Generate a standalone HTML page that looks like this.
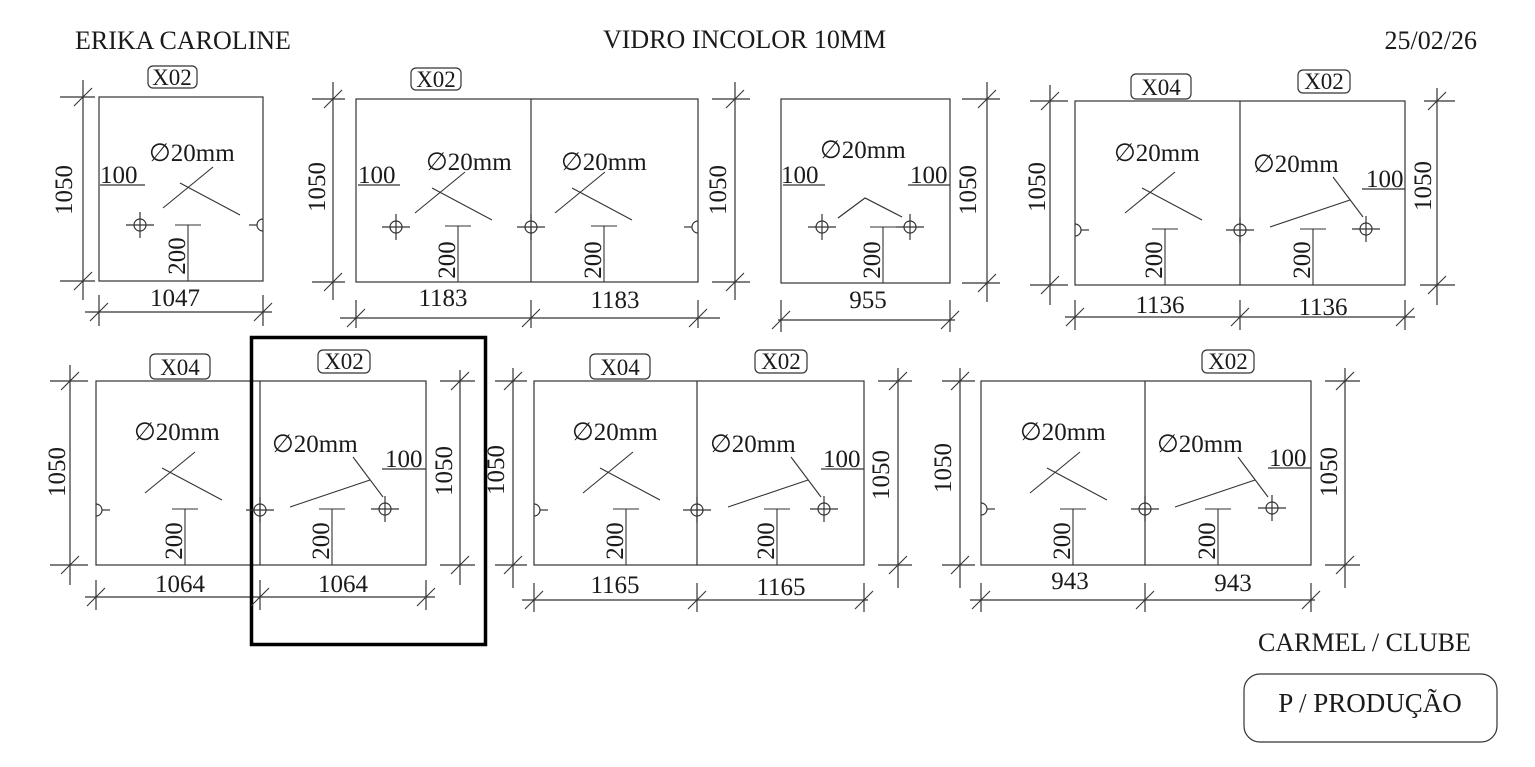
<!DOCTYPE html>
<html><head><meta charset="utf-8"><style>
html,body{margin:0;padding:0;background:#fff}
svg{display:block}
text{font-family:"Liberation Serif",serif;fill:#1a1a1a}
.d{font-size:25px}
.h{font-size:26px}
</style></head><body>
<svg width="1535" height="767" viewBox="0 0 1535 767" xmlns="http://www.w3.org/2000/svg">
<defs>
<g id="hole" stroke="#333" stroke-width="1.2" fill="none"><circle r="6"/><line x1="-14" x2="14"/><line y1="-13" y2="13"/></g>
<g id="hl" stroke="#333" stroke-width="1.2" fill="none"><path d="M0,-6 A6,6 0 0 1 0,6"/><line x1="6" x2="14"/></g>
<g id="hr" stroke="#333" stroke-width="1.2" fill="none"><path d="M0,-6 A6,6 0 0 0 0,6"/><line x1="-6" x2="-14"/></g>
<g id="t" stroke="#333" stroke-width="1.1"><line x1="-9" y1="9" x2="9" y2="-9"/></g>
<g id="lx" stroke="#333" stroke-width="1.1"><line x1="-25" y1="23" x2="25" y2="-18"/><line x1="-8" y1="-2" x2="52" y2="30"/></g>
<g id="rx" stroke="#333" stroke-width="1.1"><line x1="-55" y1="32" x2="25" y2="5"/><line x1="8" y1="-18" x2="38" y2="22"/></g>
<g id="b200" stroke="#333" stroke-width="1.1"><line x1="0" y1="0" x2="0" y2="56"/><line x1="-13" x2="13"/></g>
</defs>
<g stroke="#333" stroke-width="1.2" fill="none">
<rect x="99" y="97" width="164" height="184"/>
<line x1="83" y1="80" x2="83" y2="300"/><line x1="60" y1="97" x2="95" y2="97"/><line x1="60" y1="281" x2="95" y2="281"/>
<line x1="85" y1="312" x2="272" y2="312"/><line x1="99" y1="295" x2="99" y2="326"/><line x1="263" y1="295" x2="263" y2="326"/>
<line x1="100" y1="185" x2="145" y2="185"/>
<rect x="356" y="99" width="342" height="183"/><line x1="531" y1="99" x2="531" y2="282"/>
<line x1="333" y1="82" x2="333" y2="300"/><line x1="312" y1="99" x2="345" y2="99"/><line x1="312" y1="282" x2="345" y2="282"/>
<line x1="735" y1="82" x2="735" y2="300"/><line x1="712" y1="99" x2="750" y2="99"/><line x1="712" y1="282" x2="750" y2="282"/>
<line x1="340" y1="318" x2="720" y2="318"/><line x1="356" y1="300" x2="356" y2="328"/><line x1="531" y1="300" x2="531" y2="328"/><line x1="698" y1="300" x2="698" y2="328"/>
<line x1="358" y1="185" x2="400" y2="185"/>
<rect x="781" y="99" width="169" height="184"/>
<line x1="987" y1="82" x2="987" y2="302"/><line x1="962" y1="99" x2="1000" y2="99"/><line x1="962" y1="283" x2="1000" y2="283"/>
<line x1="778" y1="320" x2="955" y2="320"/><line x1="781" y1="300" x2="781" y2="332"/><line x1="950" y1="300" x2="950" y2="332"/>
<line x1="783" y1="185" x2="825" y2="185"/><line x1="908" y1="185" x2="950" y2="185"/>
<polyline points="838,218 865,198 902,217"/>
<rect x="1075" y="101" width="330" height="184"/><line x1="1240" y1="101" x2="1240" y2="285"/>
<line x1="1050" y1="85" x2="1050" y2="305"/><line x1="1030" y1="101" x2="1068" y2="101"/><line x1="1030" y1="285" x2="1068" y2="285"/>
<line x1="1437" y1="88" x2="1437" y2="305"/><line x1="1424" y1="101" x2="1455" y2="101"/><line x1="1420" y1="285" x2="1455" y2="285"/>
<line x1="1065" y1="317" x2="1415" y2="317"/><line x1="1075" y1="300" x2="1075" y2="330"/><line x1="1240" y1="300" x2="1240" y2="330"/><line x1="1405" y1="300" x2="1405" y2="330"/>
<line x1="1362" y1="189" x2="1405" y2="189"/>
<rect x="96" y="381" width="330" height="184"/><line x1="260" y1="381" x2="260" y2="565"/>
<line x1="70" y1="365" x2="70" y2="585"/><line x1="50" y1="381" x2="88" y2="381"/><line x1="50" y1="565" x2="88" y2="565"/>
<line x1="460" y1="370" x2="460" y2="585"/><line x1="440" y1="381" x2="475" y2="381"/><line x1="440" y1="565" x2="475" y2="565"/>
<line x1="85" y1="597" x2="435" y2="597"/><line x1="96" y1="580" x2="96" y2="610"/><line x1="260" y1="580" x2="260" y2="610"/><line x1="426" y1="580" x2="426" y2="610"/>
<line x1="382" y1="469" x2="426" y2="469"/>
<rect x="534" y="381" width="330" height="184"/><line x1="697" y1="381" x2="697" y2="565"/>
<line x1="513" y1="368" x2="513" y2="588"/><line x1="495" y1="381" x2="527" y2="381"/><line x1="495" y1="565" x2="527" y2="565"/>
<line x1="898" y1="368" x2="898" y2="588"/><line x1="878" y1="381" x2="912" y2="381"/><line x1="878" y1="565" x2="912" y2="565"/>
<line x1="522" y1="600" x2="868" y2="600"/><line x1="534" y1="583" x2="534" y2="612"/><line x1="697" y1="583" x2="697" y2="612"/><line x1="864" y1="583" x2="864" y2="612"/>
<line x1="821" y1="469" x2="864" y2="469"/>
<rect x="981" y="381" width="330" height="184"/><line x1="1145" y1="381" x2="1145" y2="565"/>
<line x1="960" y1="368" x2="960" y2="588"/><line x1="942" y1="381" x2="975" y2="381"/><line x1="942" y1="565" x2="975" y2="565"/>
<line x1="1345" y1="368" x2="1345" y2="588"/><line x1="1325" y1="381" x2="1360" y2="381"/><line x1="1325" y1="565" x2="1360" y2="565"/>
<line x1="970" y1="600" x2="1315" y2="600"/><line x1="981" y1="583" x2="981" y2="612"/><line x1="1145" y1="583" x2="1145" y2="612"/><line x1="1311" y1="583" x2="1311" y2="612"/>
<line x1="1268" y1="468" x2="1311" y2="468"/>
<rect x="148" y="66" width="49" height="22" rx="5"/>
<rect x="411" y="68" width="50" height="22" rx="5"/>
<rect x="1131" y="74" width="60" height="25" rx="5"/>
<rect x="1298" y="70" width="52" height="23" rx="5"/>
<rect x="150" y="354" width="60" height="25" rx="5"/>
<rect x="318" y="350" width="52" height="23" rx="5"/>
<rect x="590" y="354" width="60" height="25" rx="5"/>
<rect x="755" y="350" width="52" height="23" rx="5"/>
<rect x="1202" y="350" width="52" height="23" rx="5"/>
<rect x="1244" y="674" width="253" height="68" rx="16"/>
</g>
<rect x="251.5" y="337.5" width="234" height="307" fill="none" stroke="#000" stroke-width="3.5"/>
<use href="#t" x="83" y="97"/><use href="#t" x="83" y="281"/><use href="#t" x="99" y="312"/><use href="#t" x="263" y="312"/>
<use href="#t" x="333" y="99"/><use href="#t" x="333" y="282"/><use href="#t" x="735" y="99"/><use href="#t" x="735" y="282"/>
<use href="#t" x="356" y="318"/><use href="#t" x="531" y="318"/><use href="#t" x="698" y="318"/>
<use href="#t" x="987" y="99"/><use href="#t" x="987" y="283"/><use href="#t" x="781" y="320"/><use href="#t" x="950" y="320"/>
<use href="#t" x="1050" y="101"/><use href="#t" x="1050" y="285"/><use href="#t" x="1437" y="101"/><use href="#t" x="1437" y="285"/>
<use href="#t" x="1075" y="317"/><use href="#t" x="1240" y="317"/><use href="#t" x="1405" y="317"/>
<use href="#t" x="70" y="381"/><use href="#t" x="70" y="565"/><use href="#t" x="460" y="381"/><use href="#t" x="460" y="565"/>
<use href="#t" x="96" y="597"/><use href="#t" x="260" y="597"/><use href="#t" x="426" y="597"/>
<use href="#t" x="513" y="381"/><use href="#t" x="513" y="565"/><use href="#t" x="898" y="381"/><use href="#t" x="898" y="565"/>
<use href="#t" x="534" y="600"/><use href="#t" x="697" y="600"/><use href="#t" x="864" y="600"/>
<use href="#t" x="960" y="381"/><use href="#t" x="960" y="565"/><use href="#t" x="1345" y="381"/><use href="#t" x="1345" y="565"/>
<use href="#t" x="981" y="600"/><use href="#t" x="1145" y="600"/><use href="#t" x="1311" y="600"/>
<use href="#hole" x="140" y="225"/><use href="#hr" x="263" y="225"/>
<use href="#hole" x="396" y="227"/><use href="#hole" x="531" y="227"/><use href="#hr" x="698" y="227"/>
<use href="#hole" x="822" y="227"/><use href="#hole" x="910" y="227"/>
<use href="#hl" x="1075" y="230"/><use href="#hole" x="1240" y="230"/><use href="#hole" x="1366" y="229"/>
<use href="#hl" x="96" y="510"/><use href="#hole" x="260" y="510"/><use href="#hole" x="385" y="509"/>
<use href="#hl" x="534" y="510"/><use href="#hole" x="697" y="510"/><use href="#hole" x="824" y="509"/>
<use href="#hl" x="981" y="509"/><use href="#hole" x="1145" y="509"/><use href="#hole" x="1272" y="508"/>
<use href="#lx" x="188" y="185"/>
<use href="#lx" x="440" y="190"/><use href="#lx" x="580" y="190"/>
<use href="#lx" x="1150" y="190"/><use href="#rx" x="1325" y="195"/>
<use href="#lx" x="170" y="470"/><use href="#rx" x="345" y="475"/>
<use href="#lx" x="608" y="470"/><use href="#rx" x="783" y="475"/>
<use href="#lx" x="1055" y="470"/><use href="#rx" x="1230" y="475"/>
<use href="#b200" x="188" y="225"/>
<use href="#b200" x="458" y="226"/><use href="#b200" x="604" y="226"/>
<use href="#b200" x="883" y="227"/>
<use href="#b200" x="1165" y="229"/><use href="#b200" x="1313" y="229"/>
<use href="#b200" x="185" y="509"/><use href="#b200" x="332" y="509"/>
<use href="#b200" x="626" y="509"/><use href="#b200" x="777" y="509"/>
<use href="#b200" x="1073" y="509"/><use href="#b200" x="1218" y="509"/>
<text class="h" x="75" y="49">ERIKA CAROLINE</text>
<text class="h" x="603" y="48">VIDRO INCOLOR 10MM</text>
<text class="h" x="1477" y="49" text-anchor="end">25/02/26</text>
<text class="h" x="1258" y="651">CARMEL / CLUBE</text>
<text x="1370" y="712" text-anchor="middle" font-size="27">P / PRODUÇÃO</text>
<g font-size="23">
<text x="172" y="85" text-anchor="middle">X02</text>
<text x="436" y="87" text-anchor="middle">X02</text>
<text x="1161" y="95" text-anchor="middle">X04</text>
<text x="1324" y="89" text-anchor="middle">X02</text>
<text x="180" y="375" text-anchor="middle">X04</text>
<text x="344" y="369" text-anchor="middle">X02</text>
<text x="620" y="375" text-anchor="middle">X04</text>
<text x="781" y="369" text-anchor="middle">X02</text>
<text x="1228" y="369" text-anchor="middle">X02</text>
</g>
<g class="d">
<text x="175" y="306" text-anchor="middle">1047</text>
<text x="443" y="306" text-anchor="middle">1183</text><text x="615" y="308" text-anchor="middle">1183</text>
<text x="868" y="308" text-anchor="middle">955</text>
<text x="1160" y="313" text-anchor="middle">1136</text><text x="1323" y="315" text-anchor="middle">1136</text>
<text x="180" y="592" text-anchor="middle">1064</text><text x="343" y="592" text-anchor="middle">1064</text>
<text x="615" y="593" text-anchor="middle">1165</text><text x="781" y="595" text-anchor="middle">1165</text>
<text x="1070" y="589" text-anchor="middle">943</text><text x="1233" y="591" text-anchor="middle">943</text>
<text x="100" y="183">100</text><text x="358" y="183">100</text>
<text x="781" y="183">100</text><text x="910" y="183">100</text>
<text x="1366" y="187">100</text><text x="385" y="467">100</text>
<text x="823" y="467">100</text><text x="1269" y="466">100</text>
<text x="149" y="161">∅20mm</text>
<text x="426" y="170">∅20mm</text><text x="561" y="170">∅20mm</text>
<text x="820" y="158">∅20mm</text>
<text x="1114" y="161">∅20mm</text><text x="1253" y="172">∅20mm</text>
<text x="134" y="440">∅20mm</text><text x="272" y="452">∅20mm</text>
<text x="572" y="440">∅20mm</text><text x="710" y="452">∅20mm</text>
<text x="1020" y="440">∅20mm</text><text x="1157" y="452">∅20mm</text>
<text transform="translate(72,190) rotate(-90)" text-anchor="middle">1050</text>
<text transform="translate(325,187) rotate(-90)" text-anchor="middle">1050</text>
<text transform="translate(726,190) rotate(-90)" text-anchor="middle">1050</text>
<text transform="translate(976,190) rotate(-90)" text-anchor="middle">1050</text>
<text transform="translate(1045,187) rotate(-90)" text-anchor="middle">1050</text>
<text transform="translate(1431,186) rotate(-90)" text-anchor="middle">1050</text>
<text transform="translate(65,472) rotate(-90)" text-anchor="middle">1050</text>
<text transform="translate(452,471) rotate(-90)" text-anchor="middle">1050</text>
<text transform="translate(504,470) rotate(-90)" text-anchor="middle">1050</text>
<text transform="translate(889,475) rotate(-90)" text-anchor="middle">1050</text>
<text transform="translate(951,468) rotate(-90)" text-anchor="middle">1050</text>
<text transform="translate(1337,472) rotate(-90)" text-anchor="middle">1050</text>
<text transform="translate(185,256) rotate(-90)" text-anchor="middle">200</text>
<text transform="translate(455,260) rotate(-90)" text-anchor="middle">200</text>
<text transform="translate(601,260) rotate(-90)" text-anchor="middle">200</text>
<text transform="translate(880,260) rotate(-90)" text-anchor="middle">200</text>
<text transform="translate(1162,260) rotate(-90)" text-anchor="middle">200</text>
<text transform="translate(1310,260) rotate(-90)" text-anchor="middle">200</text>
<text transform="translate(182,541) rotate(-90)" text-anchor="middle">200</text>
<text transform="translate(329,541) rotate(-90)" text-anchor="middle">200</text>
<text transform="translate(623,541) rotate(-90)" text-anchor="middle">200</text>
<text transform="translate(774,541) rotate(-90)" text-anchor="middle">200</text>
<text transform="translate(1070,541) rotate(-90)" text-anchor="middle">200</text>
<text transform="translate(1215,541) rotate(-90)" text-anchor="middle">200</text>
</g>
</svg>
</body></html>
